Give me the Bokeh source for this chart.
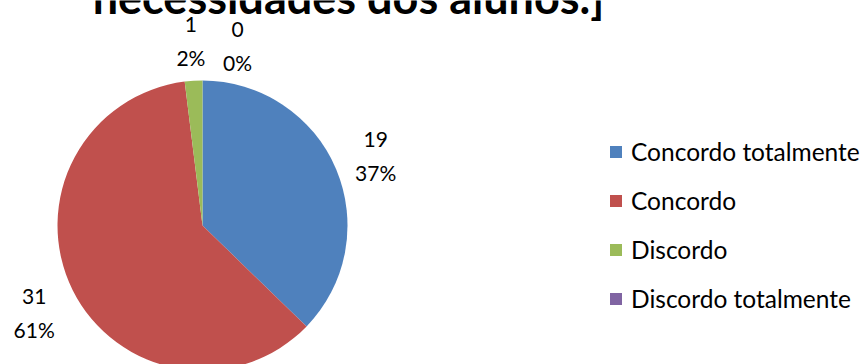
import numpy as np
from bokeh.plotting import figure
from bokeh.models import ColumnDataSource, Range1d, Legend, LegendItem
from bokeh.core.properties import value
from bokeh.embed import file_html
from bokeh.resources import INLINE

# ---- data ----
title_text = "necessidades dos alunos.]"
categories = ["Concordo totalmente", "Concordo", "Discordo", "Discordo totalmente"]
counts = [19, 31, 1, 0]
colors = ["#4F81BD", "#C0504D", "#9BBB59", "#8064A2"]

W, H = 867, 364
p = figure(width=W, height=H, output_backend="svg", toolbar_location=None,
           x_range=Range1d(0, W), y_range=Range1d(0, H),
           x_axis_location=None, y_axis_location=None, min_border=0)
p.grid.visible = False
p.outline_line_color = None
p.background_fill_color = "white"

cx, cy, r = 202, 139, 145
vals = np.array(counts, dtype=float)
frac = vals / vals.sum()
cum = np.concatenate([[0], np.cumsum(frac)])
start = np.pi / 2 - cum[:-1] * 2 * np.pi
end = np.pi / 2 - cum[1:] * 2 * np.pi
mid = (start + end) / 2
pcts = [f"{round(f*100):.0f}%" for f in frac]
radii = [r if v > 0 else 0 for v in vals]

src = ColumnDataSource(dict(x=[cx]*4, y=[cy]*4, start=start, end=end, rad=radii,
                            color=colors, cat=categories))
w = p.wedge(x="x", y="y", radius="rad", start_angle="start", end_angle="end",
            direction="clock", fill_color="color", line_color=None, source=src)

# labels (outside end of each slice)
lr = 188
lx = cx + lr * np.cos(mid)
ly = cy + lr * np.sin(mid)
nudge_x = [0, 0, 0, 35]
nudge_y = [0, 0, 0, -5]
lx = lx + np.array(nudge_x)
ly = ly + np.array(nudge_y)
lsrc = ColumnDataSource(dict(x=lx, y=ly, c=[str(c) for c in counts], pc=pcts))
p.text(x="x", y="y", text="c", source=lsrc, text_align="center", text_baseline="middle",
       y_offset=-13, text_font=value("Lato"), text_font_size="21px", text_color="black")
p.text(x="x", y="y", text="pc", source=lsrc, text_align="center", text_baseline="middle",
       y_offset=20, text_font=value("Lato"), text_font_size="21px", text_color="black")

# title (partially cut at top, as in the reference)
p.text(x=[348], y=[341], text=[title_text], text_align="center", text_baseline="bottom",
       text_font=value("Lato"), text_font_style="bold", text_font_size="45px", text_color="black")

items = [LegendItem(label=c, renderers=[w], index=i) for i, c in enumerate(categories)]
legend = Legend(items=items, location=(608, 51), padding=0, margin=0, spacing=20,
                glyph_width=15, glyph_height=15, label_standoff=8,
                label_text_font="Lato", label_text_font_size="24.5px",
                label_text_color="black", border_line_alpha=0, background_fill_alpha=0)
p.add_layout(legend, "center")

open("out.html", "w").write(file_html(p, INLINE))
